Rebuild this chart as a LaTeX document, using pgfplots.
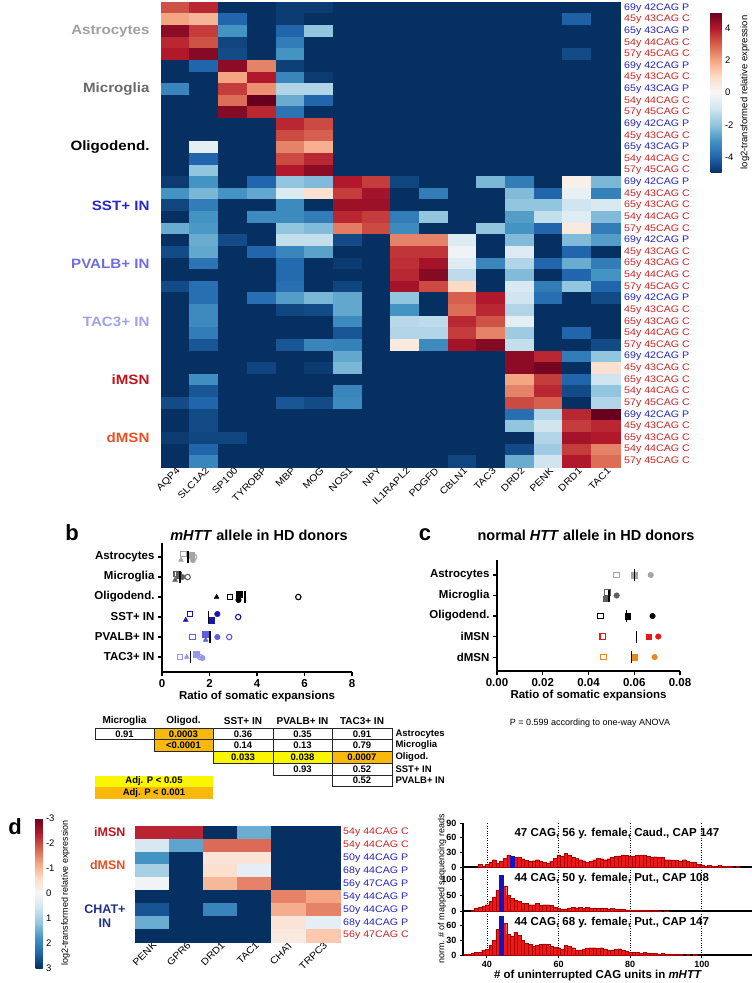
\documentclass[border=0pt]{standalone}
\usepackage{fontspec}
\setmainfont{Liberation Sans}
\newfontfamily\hmfont[FakeStretch=1.12]{Liberation Sans}
\usepackage{pgfplots}
\pgfplotsset{compat=1.18}
\usepackage{pgfplotstable}
\definecolor{pblue}{RGB}{35,35,190}
\definecolor{cred}{RGB}{205,35,35}
\definecolor{gAst}{RGB}{160,160,160}
\definecolor{gMic}{RGB}{105,105,105}
\definecolor{gSST}{RGB}{40,40,200}
\definecolor{gPV}{RGB}{110,110,225}
\definecolor{gTAC}{RGB}{160,160,240}
\definecolor{giMSN}{RGB}{190,20,30}
\definecolor{gdMSN}{RGB}{232,80,35}
\definecolor{gCHAT}{RGB}{30,50,140}
\definecolor{tyel}{RGB}{250,245,0}
\definecolor{tora}{RGB}{250,185,10}
\definecolor{barred}{RGB}{235,25,25}
\definecolor{barredd}{RGB}{170,0,0}
\definecolor{barblue}{RGB}{20,20,190}
\definecolor{k0}{RGB}{165,165,165}
\definecolor{k1}{RGB}{95,95,95}
\definecolor{k2}{RGB}{0,0,0}
\definecolor{k3}{RGB}{25,25,165}
\definecolor{k4}{RGB}{95,95,220}
\definecolor{k5}{RGB}{150,150,235}
\definecolor{k6}{RGB}{230,25,25}
\definecolor{k7}{RGB}{235,135,30}
\newcommand{\Pl}[1]{\textcolor{pblue}{#1}}
\newcommand{\Cl}[1]{\textcolor{cred}{#1}}
\pgfplotsset{
 /pgf/number format/assume math mode=true,
 colormap={rdbu}{rgb255=(5,48,97) rgb255=(33,102,172) rgb255=(67,147,195) rgb255=(146,197,222) rgb255=(209,229,240) rgb255=(247,247,247) rgb255=(253,219,199) rgb255=(244,165,130) rgb255=(214,96,77) rgb255=(178,24,43) rgb255=(103,0,31)},
 colormap={burd}{rgb255=(103,0,31) rgb255=(178,24,43) rgb255=(214,96,77) rgb255=(244,165,130) rgb255=(253,219,199) rgb255=(247,247,247) rgb255=(209,229,240) rgb255=(146,197,222) rgb255=(67,147,195) rgb255=(33,102,172) rgb255=(5,48,97)},
 openmk/.style={only marks, scatter, point meta=explicit symbolic, mark size=2.7pt,
   scatter/classes={k0={draw=k0,fill=white,line width=1.1pt}, k1={draw=k1,fill=white,line width=1.1pt}, k2={draw=k2,fill=white,line width=1.1pt}, k3={draw=k3,fill=white,line width=1.1pt}, k4={draw=k4,fill=white,line width=1.1pt}, k5={draw=k5,fill=white,line width=1.1pt}, k6={draw=k6,fill=white,line width=1.1pt}, k7={draw=k7,fill=white,line width=1.1pt}}},
 fillmk/.style={only marks, scatter, point meta=explicit symbolic, mark size=2.8pt,
   scatter/classes={k0={draw=k0,fill=k0}, k1={draw=k1,fill=k1}, k2={draw=k2,fill=k2}, k3={draw=k3,fill=k3}, k4={draw=k4,fill=k4}, k5={draw=k5,fill=k5}, k6={draw=k6,fill=k6}, k7={draw=k7,fill=k7}}},
 dotax/.style={anchor=north west, scale only axis, y dir=reverse, clip=false,
   axis x line*=bottom, axis y line*=left, axis line style={line width=1.2pt},
   tick align=outside, major tick length=4pt, tick style={line width=1.1pt, black},
   ticklabel style={font=\bfseries\fontsize{11.5}{12}\selectfont},
   xlabel style={font=\bfseries\fontsize{11.5}{12}\selectfont, yshift=3pt}},
 hist/.style={anchor=north west, scale only axis, width=289pt, height=44pt, xmin=33.3, xmax=114, ymin=0,
   axis x line*=bottom, axis y line*=left, axis line style={line width=1.1pt},
   xtick={40,60,80,100}, xmajorgrids, major grid style={dotted, black, line width=0.9pt},
   tick align=outside, major tick length=3pt, tick style={line width=1pt, black},
   ticklabel style={font=\bfseries\fontsize{9}{9}\selectfont}},
 redbar/.style={ybar, bar width=1, bar shift=0pt, fill=barred, draw=barredd, line width=0.25pt},
 bluebar/.style={ybar, bar width=1, bar shift=0pt, fill=barblue, draw=barblue, line width=0.25pt},
 heatcell/.style={only marks, scatter, mark=square*, point meta=explicit,
   scatter/use mapped color={draw=mapped color, fill=mapped color}},
}
\begin{document}
\begin{tikzpicture}
\useasboundingbox (0,0) rectangle (752pt,-983pt);

% ---------------- panel a ----------------
\node[font=\bfseries\fontsize{22}{24}\selectfont] at (300pt,-12pt) {a};
\begin{axis}[at={(161pt,-2pt)}, anchor=north west, scale only axis, width=459pt, height=465pt,
 xmin=-0.5, xmax=15.5, ymin=-0.5, ymax=39.5, y dir=reverse, enlargelimits=false, clip=false,
 axis line style={draw=none}, tick style={draw=none},
 xtick={0,...,15}, xticklabels={AQP4,SLC1A2,SP100,TYROBP,MBP,MOG,NOS1,NPY,IL1RAPL2,PDGFD,CBLN1,TAC3,DRD2,PENK,DRD1,TAC1},
 xticklabel style={rotate=45, anchor=east, font=\hmfont\fontsize{9.5}{10}\selectfont, inner sep=1pt, xshift=2pt, yshift=-4pt},
 ytick={0,...,39}, yticklabel pos=right, yticklabel style={font=\hmfont\fontsize{9.5}{10}\selectfont, inner sep=0pt, xshift=4pt},
 yticklabels={\Pl{69y 42CAG P},\Cl{45y 43CAG C},\Pl{65y 43CAG P},\Cl{54y 44CAG C},\Cl{57y 45CAG C},
 \Pl{69y 42CAG P},\Cl{45y 43CAG C},\Pl{65y 43CAG P},\Cl{54y 44CAG C},\Cl{57y 45CAG C},
 \Pl{69y 42CAG P},\Cl{45y 43CAG C},\Pl{65y 43CAG P},\Cl{54y 44CAG C},\Cl{57y 45CAG C},
 \Pl{69y 42CAG P},\Cl{45y 43CAG C},\Cl{65y 43CAG C},\Cl{54y 44CAG C},\Cl{57y 45CAG C},
 \Pl{69y 42CAG P},\Cl{45y 43CAG C},\Cl{65y 43CAG C},\Cl{54y 44CAG C},\Cl{57y 45CAG C},
 \Pl{69y 42CAG P},\Cl{45y 43CAG C},\Cl{65y 43CAG C},\Cl{54y 44CAG C},\Cl{57y 45CAG C},
 \Pl{69y 42CAG P},\Cl{45y 43CAG C},\Cl{65y 43CAG C},\Cl{54y 44CAG C},\Cl{57y 45CAG C},
 \Pl{69y 42CAG P},\Cl{45y 43CAG C},\Cl{65y 43CAG C},\Cl{54y 44CAG C},\Cl{57y 45CAG C}},
 colormap name=rdbu, point meta min=-5, point meta max=5,
 colorbar, colorbar style={at={(parent axis.north east)}, anchor=north west, xshift=82pt, yshift=-10pt,
   width=11pt, height=161pt, y dir=normal, ytick={-4,-2,0,2,4},
   yticklabel style={font=\fontsize{9.5}{10}\selectfont},
   ylabel={log2-transformed relative expression}, ylabel style={font=\fontsize{9.5}{10}\selectfont},
   axis line style={draw=none}, tick style={draw=none}}]
\addplot[heatcell, mark size=5.85pt, mark options={xscale=2.46}]
 table[x expr={round(\coordindex-16*floor((\coordindex+0.5)/16))}, y expr={floor((\coordindex+0.5)/16)}, meta=z, row sep=\\] {
z\\
3.2\\ 3.8\\ -5\\ -5\\ -4.8\\ -4.8\\ -5\\ -5\\ -5\\ -5\\ -5\\ -5\\ -5\\ -5\\ -5\\ -5\\
2.0\\ 1.7\\ -4\\ -5\\ -4.8\\ -5\\ -5\\ -5\\ -5\\ -5\\ -5\\ -5\\ -5\\ -5\\ -4.1\\ -5\\
4.5\\ 3.5\\ -3\\ -5\\ -4\\ -2\\ -5\\ -5\\ -5\\ -5\\ -5\\ -5\\ -5\\ -5\\ -5\\ -5\\
3.8\\ 3.2\\ -4.6\\ -5\\ -3.5\\ -5\\ -5\\ -5\\ -5\\ -5\\ -5\\ -5\\ -5\\ -5\\ -5\\ -5\\
4.0\\ 4.6\\ -4.5\\ -5\\ -3\\ -5\\ -5\\ -5\\ -5\\ -5\\ -5\\ -5\\ -5\\ -5\\ -4.5\\ -5\\
-5\\ -4\\ 4.5\\ 2.5\\ -4.7\\ -5\\ -5\\ -5\\ -5\\ -5\\ -5\\ -5\\ -5\\ -5\\ -5\\ -5\\
-5\\ -5\\ 2\\ 4\\ -3.3\\ -4.8\\ -5\\ -5\\ -5\\ -5\\ -5\\ -5\\ -5\\ -5\\ -5\\ -5\\
-3.3\\ -5\\ 3.5\\ 2.3\\ -1.5\\ -1.5\\ -5\\ -5\\ -5\\ -5\\ -5\\ -5\\ -5\\ -5\\ -5\\ -5\\
-5\\ -5\\ 2.8\\ 5\\ -2.5\\ -4\\ -5\\ -5\\ -5\\ -5\\ -5\\ -5\\ -5\\ -5\\ -5\\ -5\\
-5\\ -5\\ 4.6\\ 3.8\\ -3.7\\ -5\\ -5\\ -5\\ -5\\ -5\\ -5\\ -5\\ -5\\ -5\\ -5\\ -5\\
-5\\ -5\\ -5\\ -5\\ 3.8\\ 3.3\\ -5\\ -5\\ -5\\ -5\\ -5\\ -5\\ -5\\ -5\\ -5\\ -5\\
-5\\ -5\\ -5\\ -5\\ 3.3\\ 3\\ -5\\ -5\\ -5\\ -5\\ -5\\ -5\\ -5\\ -5\\ -5\\ -5\\
-5\\ -0.5\\ -5\\ -5\\ 2.5\\ 1.8\\ -5\\ -5\\ -5\\ -5\\ -5\\ -5\\ -5\\ -5\\ -5\\ -5\\
-5\\ -4\\ -5\\ -5\\ 3.3\\ 3.8\\ -5\\ -5\\ -5\\ -5\\ -5\\ -5\\ -5\\ -5\\ -5\\ -5\\
-5\\ -2\\ -5\\ -5\\ 4\\ 4.5\\ -5\\ -5\\ -5\\ -5\\ -5\\ -5\\ -5\\ -5\\ -5\\ -5\\
-4.8\\ -3\\ -5\\ -4\\ -2\\ -2.2\\ 4\\ 3.5\\ -4.6\\ -5\\ -5\\ -2.3\\ -3.5\\ -5\\ 0.3\\ -2.3\\
-3\\ -2.3\\ -3\\ -2.6\\ -0.7\\ 0.8\\ 3.5\\ 4.2\\ -5\\ -3.5\\ -5\\ -5\\ -2.2\\ -4\\ -0.4\\ -3.4\\
-4.6\\ -3.5\\ -5\\ -5\\ -3.2\\ -5\\ 4.3\\ 4.3\\ -5\\ -5\\ -5\\ -5\\ -2\\ -2\\ -1\\ -0.8\\
-5\\ -3\\ -5\\ -3.2\\ -3.2\\ -3.5\\ 3.8\\ 3.5\\ -3.5\\ -2\\ -5\\ -5\\ -2.8\\ -1.2\\ -0.6\\ -2.2\\
-2.5\\ -2.9\\ -5\\ -5\\ -2\\ -2.2\\ 2.6\\ 3.3\\ -3.2\\ -5\\ -5\\ -2\\ -3\\ -4\\ 0.5\\ -3.5\\
-5\\ -2.5\\ -4.5\\ -5\\ -1.2\\ -1.2\\ -4.5\\ -5\\ 2.5\\ 2.5\\ -0.7\\ -5\\ -2.2\\ -5\\ -2.2\\ -2.8\\
-4.5\\ -2.6\\ -5\\ -4\\ -3.3\\ -2.7\\ -5\\ -5\\ 3.6\\ 3.6\\ -0.2\\ -5\\ -0.7\\ -5\\ -4\\ -5\\
-5\\ -3.7\\ -5\\ -5\\ -3.9\\ -5\\ -4.8\\ -5\\ 3.7\\ 4.2\\ -0.6\\ -3.3\\ -1.5\\ -4\\ -2.5\\ -3.5\\
-5\\ -5\\ -5\\ -5\\ -3.9\\ -5\\ -5\\ -5\\ 3.8\\ 4.6\\ -1.3\\ -5\\ -2.2\\ -5\\ -4\\ -3\\
-4.5\\ -3.8\\ -5\\ -5\\ -3.8\\ -5\\ -4.6\\ -5\\ 4.2\\ 3.3\\ 1\\ -5\\ -0.8\\ -3.5\\ -2\\ -4\\
-5\\ -3.8\\ -5\\ -3.8\\ -2.8\\ -2.3\\ -2.6\\ -5\\ -2\\ -5\\ 3\\ 4\\ -1\\ -3.8\\ -5\\ -4.5\\
-5\\ -3.2\\ -5\\ -5\\ -4.6\\ -4.5\\ -2.6\\ -5\\ -3\\ -5\\ 2.8\\ 3.8\\ -1.5\\ -5\\ -5\\ -5\\
-5\\ -3.2\\ -5\\ -5\\ -5\\ -5\\ -3.2\\ -5\\ -1.4\\ -1.3\\ 3.8\\ 3.2\\ -0.5\\ -5\\ -5\\ -5\\
-5\\ -3.5\\ -5\\ -5\\ -5\\ -5\\ -4.3\\ -5\\ -1.5\\ -1.5\\ 3.5\\ 2.5\\ -1.8\\ -5\\ -4\\ -5\\
-5\\ -4.3\\ -5\\ -5\\ -4.3\\ -3.3\\ -3.4\\ -5\\ 0.5\\ -3.2\\ 4.2\\ 4.6\\ -1.2\\ -5\\ -5\\ -4.5\\
-5\\ -5\\ -5\\ -5\\ -5\\ -5\\ -2.6\\ -5\\ -5\\ -5\\ -5\\ -5\\ 4.5\\ 3.8\\ -3.5\\ -2\\
-5\\ -5\\ -5\\ -4.6\\ -5\\ -4.8\\ -2.3\\ -5\\ -5\\ -5\\ -5\\ -5\\ 4.5\\ 4.8\\ -5\\ 0.8\\
-5\\ -3.1\\ -5\\ -5\\ -5\\ -5\\ -5\\ -5\\ -5\\ -5\\ -5\\ -5\\ 2\\ 3.5\\ -4\\ -1\\
-5\\ -4.3\\ -5\\ -5\\ -5\\ -5\\ -3.3\\ -5\\ -5\\ -5\\ -5\\ -5\\ 2.5\\ 3.8\\ -4.5\\ -2\\
-4.5\\ -4\\ -5\\ -5\\ -4.3\\ -4.5\\ -3.2\\ -5\\ -5\\ -5\\ -5\\ -5\\ 3.3\\ 3\\ -5\\ -1.5\\
-5\\ -4.5\\ -5\\ -5\\ -5\\ -5\\ -5\\ -5\\ -5\\ -5\\ -5\\ -5\\ -3.8\\ -1.5\\ 3.8\\ 5\\
-5\\ -4.5\\ -5\\ -5\\ -5\\ -5\\ -5\\ -5\\ -5\\ -5\\ -5\\ -5\\ -2\\ -1\\ 3.5\\ 3.8\\
-4.8\\ -4.6\\ -4.6\\ -5\\ -5\\ -5\\ -5\\ -5\\ -5\\ -5\\ -5\\ -5\\ -5\\ -1.5\\ 4.2\\ 4\\
-5\\ -4\\ -5\\ -5\\ -5\\ -5\\ -5\\ -5\\ -5\\ -5\\ -5\\ -5\\ -4.5\\ -1.8\\ 3.5\\ 2.5\\
-5\\ -3.3\\ -5\\ -5\\ -5\\ -5\\ -5\\ -5\\ -5\\ -5\\ -4.6\\ -5\\ -2.5\\ -1\\ 4\\ 2.8\\
};
\pgfplotsinvokeforeach{4.5,9.5,14.5,19.5,24.5,29.5,34.5}{
 \draw[white, line width=3.3pt] (axis cs:-0.6,#1) -- (axis cs:15.6,#1);
}
\tikzset{grp/.style={anchor=east, xshift=-8pt, font=\hmfont\bfseries\fontsize{13.5}{14}\selectfont}}
\node[grp, text=gAst] at (axis cs:-0.5,2) {Astrocytes};
\node[grp, text=gMic] at (axis cs:-0.5,7) {Microglia};
\node[grp, text=black] at (axis cs:-0.5,12) {Oligodend.};
\node[grp, text=gSST] at (axis cs:-0.5,17) {SST+ IN};
\node[grp, text=gPV] at (axis cs:-0.5,22) {PVALB+ IN};
\node[grp, text=gTAC] at (axis cs:-0.5,27) {TAC3+ IN};
\node[grp, text=giMSN] at (axis cs:-0.5,32) {iMSN};
\node[grp, text=gdMSN] at (axis cs:-0.5,37) {dMSN};
\end{axis}

% ---------------- panel b ----------------
\node[font=\bfseries\fontsize{22}{24}\selectfont] at (72pt,-533pt) {b};
\node[font=\bfseries\fontsize{14.5}{15}\selectfont] at (259pt,-535pt) {\textit{mHTT} allele in HD donors};
\begin{axis}[dotax, at={(162pt,-543pt)}, width=190pt, height=129pt,
 xmin=0, xmax=8, ymin=0.3, ymax=6.75, xtick={0,2,4,6,8},
 ytick={1,...,6}, yticklabels={Astrocytes,Microglia,Oligodend.,SST+ IN,PVALB+ IN,TAC3+ IN},
 xlabel={Ratio of somatic expansions}]
\addplot[openmk, mark=square*] coordinates {(0.9,0.85)[k0] (0.62,1.85)[k1] (2.86,3)[k2] (1.18,3.85)[k3] (1.29,5)[k4] (0.76,6)[k5]};
\addplot[openmk, mark=*] coordinates {(1.35,1)[k0] (1.08,2)[k1] (5.74,3)[k2] (3.21,4)[k3] (2.83,5)[k4] (1.6,6)[k5]};
\addplot[fillmk, mark=triangle*] coordinates {(0.8,1.15)[k0] (0.55,2.15)[k1] (2.3,3)[k2] (1.0,4.15)[k3] (1.84,5.15)[k4] (1.04,6)[k5]};
\addplot[fillmk, mark=square*] coordinates {(1.22,0.9)[k0] (0.7,1.9)[k1] (3.26,2.85)[k2] (2.06,4.15)[k3] (1.81,4.85)[k4] (1.45,5.85)[k5]};
\addplot[fillmk, mark=*] coordinates {(1.3,1.15)[k0] (0.85,2)[k1] (3.22,3.15)[k2] (2.33,3.85)[k3] (2.33,5)[k4] (1.7,6.05)[k5]};
\addplot[only marks, mark=|, mark size=6pt, mark options={line width=1.3pt, black}] coordinates {(1.1,1) (0.76,2) (3.49,3) (1.95,4) (2.02,5) (1.21,6)};
\end{axis}

% ---------------- p-value table ----------------
\tikzset{th/.style={font=\bfseries\fontsize{10}{10}\selectfont, anchor=center},
 tc/.style={draw=black!85, line width=0.5pt, minimum width=59.5pt, minimum height=11.7pt, inner sep=0pt, font=\bfseries\fontsize{9.5}{10}\selectfont, anchor=center},
 tr/.style={font=\bfseries\fontsize{9.5}{10}\selectfont, anchor=west}}
\node[th] at (124.5pt,-721pt) {Microglia};
\node[th] at (183.5pt,-721pt) {Oligod.};
\node[th] at (243pt,-721pt) {SST+ IN};
\node[th] at (302.5pt,-721pt) {PVALB+ IN};
\node[th] at (362pt,-721pt) {TAC3+ IN};
\node[tc, fill=white] at (124.5pt,-733.8pt) {0.91};
\node[tc, fill=tora] at (183.5pt,-733.8pt) {0.0003};
\node[tc, fill=white] at (243pt,-733.8pt) {0.36};
\node[tc, fill=white] at (302.5pt,-733.8pt) {0.35};
\node[tc, fill=white] at (362pt,-733.8pt) {0.91};
\node[tc, fill=tora] at (183.5pt,-745.5pt) {<0.0001};
\node[tc, fill=white] at (243pt,-745.5pt) {0.14};
\node[tc, fill=white] at (302.5pt,-745.5pt) {0.13};
\node[tc, fill=white] at (362pt,-745.5pt) {0.79};
\node[tc, fill=tyel] at (243pt,-757.2pt) {0.033};
\node[tc, fill=tyel] at (302.5pt,-757.2pt) {0.038};
\node[tc, fill=tora] at (362pt,-757.2pt) {0.0007};
\node[tc, fill=white] at (302.5pt,-768.9pt) {0.93};
\node[tc, fill=white] at (362pt,-768.9pt) {0.52};
\node[tc, fill=white] at (362pt,-780.6pt) {0.52};
\node[tr] at (392pt,-733.8pt) {Astrocytes};
\node[tr] at (392pt,-745.5pt) {Microglia};
\node[tr] at (392pt,-757.2pt) {Oligod.};
\node[tr] at (392pt,-768.9pt) {SST+ IN};
\node[tr] at (392pt,-780.6pt) {PVALB+ IN};
\node[tc, draw=none, fill=tyel, minimum width=118pt] at (154pt,-781.5pt) {Adj. P < 0.05};
\node[tc, draw=none, fill=tora, minimum width=118pt] at (154pt,-793.2pt) {Adj. P < 0.001};

% ---------------- panel c ----------------
\node[font=\bfseries\fontsize{22}{24}\selectfont] at (425pt,-535pt) {c};
\node[font=\bfseries\fontsize{14.5}{15}\selectfont] at (586pt,-535pt) {normal \textit{HTT} allele in HD donors};
\begin{axis}[dotax, at={(497pt,-560pt)}, width=183pt, height=111pt,
 xmin=0, xmax=0.08, ymin=0.27, ymax=5.68, xtick={0,0.02,0.04,0.06,0.08}, scaled x ticks=false,
 xticklabel style={/pgf/number format/fixed, /pgf/number format/fixed zerofill, /pgf/number format/precision=2},
 ytick={1,...,5}, yticklabels={Astrocytes,Microglia,Oligodend.,iMSN,dMSN},
 xlabel={Ratio of somatic expansions}]
\addplot[openmk, mark=square*] coordinates {(0.0523,1)[k0] (0.0482,1.85)[k1] (0.0453,3)[k2] (0.0462,4)[k6] (0.0465,5)[k7]};
\addplot[fillmk, mark=square*] coordinates {(0.0599,1)[k0] (0.0475,2.15)[k1] (0.0571,3)[k2] (0.0663,4)[k6] (0.0599,5)[k7]};
\addplot[fillmk, mark=*] coordinates {(0.0672,1)[k0] (0.0523,2)[k1] (0.068,3)[k2] (0.0705,4)[k6] (0.0689,5)[k7]};
\addplot[only marks, mark=|, mark size=6pt, mark options={line width=1.3pt, black}] coordinates {(0.060,1) (0.049,2) (0.0567,3) (0.0611,4) (0.0589,5)};
\end{axis}
\node[font=\fontsize{9}{10}\selectfont] at (590pt,-723pt) {P = 0.599 according to one-way ANOVA};

% ---------------- panel d heatmap ----------------
\node[font=\bfseries\fontsize{22}{24}\selectfont] at (15pt,-827pt) {d};
\begin{axis}[at={(135pt,-826pt)}, anchor=north west, scale only axis, width=205pt, height=116pt,
 xmin=-0.5, xmax=5.5, ymin=-0.5, ymax=8.5, y dir=reverse, enlargelimits=false, clip=false,
 axis line style={draw=none}, tick style={draw=none},
 xtick={0,...,5}, xticklabels={PENK,GPR6,DRD1,TAC1,CHAT,TRPC3},
 xticklabel style={rotate=45, anchor=east, font=\hmfont\fontsize{9.5}{10}\selectfont, inner sep=1pt, xshift=2pt, yshift=-3pt},
 ytick={0,...,8}, yticklabel pos=right, yticklabel style={font=\hmfont\fontsize{9.5}{10}\selectfont, inner sep=0pt, xshift=3pt},
 yticklabels={\Cl{54y 44CAG C},\Cl{54y 44CAG C},\Pl{50y 44CAG P},\Pl{68y 44CAG P},\Pl{56y 47CAG P},\Pl{54y 44CAG P},\Pl{50y 44CAG P},\Pl{68y 44CAG P},\Cl{56y 47CAG C}},
 colormap name=burd, point meta min=-3, point meta max=3,
 colorbar, colorbar style={at={(parent axis.north west)}, anchor=north west, xshift=-108pt, yshift=8pt,
   width=7pt, height=150pt, y dir=reverse, ytick={-3,...,3},
   yticklabel style={font=\fontsize{9.5}{10}\selectfont},
   ylabel={log2-transformed relative expression}, ylabel style={font=\fontsize{9}{10}\selectfont},
   axis line style={draw=none}, tick style={draw=none}}]
\addplot[heatcell, mark size=6.5pt, mark options={xscale=2.64}]
 table[x expr={round(\coordindex-6*floor((\coordindex+0.5)/6))}, y expr={floor((\coordindex+0.5)/6)}, meta=z, row sep=\\] {
z\\
-2.3\\ -2.3\\ 3\\ 1.5\\ 3\\ 3\\
0.5\\ 1.6\\ -1.7\\ -1.7\\ 3\\ 3\\
1.8\\ 3\\ -0.4\\ -0.4\\ 3\\ 3\\
1.0\\ 3\\ -0.5\\ 0.3\\ 3\\ 3\\
0.1\\ 3\\ -1.0\\ -1.5\\ 3\\ 3\\
3\\ 3\\ 3\\ 3\\ -1.5\\ -1.2\\
2.6\\ 3\\ 2\\ 3\\ -1.1\\ -1.5\\
1.5\\ 3\\ 3\\ 3\\ -0.4\\ 0.3\\
3\\ 3\\ 3\\ 3\\ -0.3\\ -0.8\\
};
\draw[white, line width=4pt] (axis cs:-0.6,0.5) -- (axis cs:5.6,0.5);
\draw[white, line width=4pt] (axis cs:-0.6,4.5) -- (axis cs:5.6,4.5);
\tikzset{grpd/.style={anchor=east, xshift=-6pt, font=\bfseries\fontsize{12.5}{14}\selectfont, align=center}}
\node[grpd, text=giMSN] at (axis cs:-0.5,0) {iMSN};
\node[grpd, text=gdMSN] at (axis cs:-0.5,2.5) {dMSN};
\node[grpd, text=gCHAT] at (axis cs:-0.5,6.5) {CHAT+\\IN};
\end{axis}

% ---------------- panel d histograms ----------------
\begin{axis}[hist, at={(463pt,-823pt)}, ymax=90, ytick={0,30,60,90}, xticklabels={}, xtick style={draw=none}]
\addplot[redbar] coordinates {(38,5)(39,2)(40,5)(41,10)(42,15)(43,8)(44,12)(45,18)(46,25)(48,20)(49,20)(50,17)(51,14)(52,12)(53,13)(54,15)(55,12)(56,10)(57,8)(58,12)(59,18)(60,25)(61,22)(62,28)(63,25)(64,20)(65,18)(66,15)(67,13)(68,10)(69,12)(70,15)(71,18)(72,17)(73,15)(74,17)(75,20)(76,22)(77,23)(78,25)(79,24)(80,23)(81,23)(82,24)(83,24)(84,25)(85,22)(86,20)(87,21)(88,20)(89,20)(90,15)(91,15)(92,14)(93,14)(94,12)(95,15)(96,12)(97,10)(98,10)(99,6)(100,3)(101,2)(102,4)(103,2)(104,1)(105,3)(106,2)(107,1)(108,2)(110,1)};
\addplot[bluebar] coordinates {(47,22)};
\end{axis}
\begin{axis}[hist, at={(463pt,-867pt)}, ymax=140, ytick={0,50,100}, xticklabels={}, xtick style={draw=none}]
\addplot[redbar] coordinates {(36,2)(37,8)(38,12)(39,15)(40,20)(41,30)(42,45)(43,65)(45,80)(46,50)(47,40)(48,35)(49,30)(50,25)(51,25)(52,20)(53,20)(54,25)(55,18)(56,20)(57,20)(58,18)(59,13)(60,8)(61,5)(62,7)(63,10)(64,12)(65,10)(66,12)(67,8)(68,12)(69,8)(70,10)(71,8)(72,10)(73,8)(74,7)(75,8)(76,5)(77,5)(78,5)(79,4)(80,4)(81,3)(82,3)(83,2)(84,2)(85,2)(86,1)(87,2)(88,1)(90,1)};
\addplot[bluebar] coordinates {(44,115)};
\end{axis}
\begin{axis}[hist, at={(463pt,-911pt)}, ymax=90, ytick={0,30,60}]
\addplot[redbar] coordinates {(34,2)(35,2)(36,3)(37,5)(38,6)(39,10)(40,12)(41,20)(42,30)(43,52)(45,65)(46,42)(47,38)(48,47)(49,40)(50,30)(51,25)(52,22)(53,18)(54,20)(55,22)(56,23)(57,22)(58,18)(59,16)(60,15)(61,12)(62,20)(63,18)(64,15)(65,10)(66,10)(67,12)(68,14)(69,15)(70,15)(71,14)(72,15)(73,12)(74,10)(75,10)(76,12)(77,13)(78,10)(79,8)(80,6)(81,5)(82,5)(83,4)(84,5)(85,4)(86,3)(87,3)(88,2)(89,3)(90,2)(91,2)(92,1)(93,2)(94,1)(96,1)(98,1)};
\addplot[bluebar] coordinates {(44,80)};
\end{axis}
\tikzset{hl/.style={anchor=west, font=\bfseries\fontsize{11.5}{12}\selectfont}}
\node[hl] at (511pt,-834pt) {47 CAG, 56 y. female, Caud., CAP 147};
\node[hl] at (511pt,-879pt) {44 CAG, 50 y. female, Put., CAP 108};
\node[hl] at (511pt,-923pt) {44 CAG, 68 y. female, Put., CAP 147};
\node[rotate=90, font=\fontsize{9}{10}\selectfont] at (442pt,-889pt) {norm. \# of mapped sequencing reads};
\node[font=\bfseries\fontsize{11.5}{12}\selectfont] at (598pt,-976pt) {\# of uninterrupted CAG units in \textit{mHTT}};
\end{tikzpicture}
\end{document}
